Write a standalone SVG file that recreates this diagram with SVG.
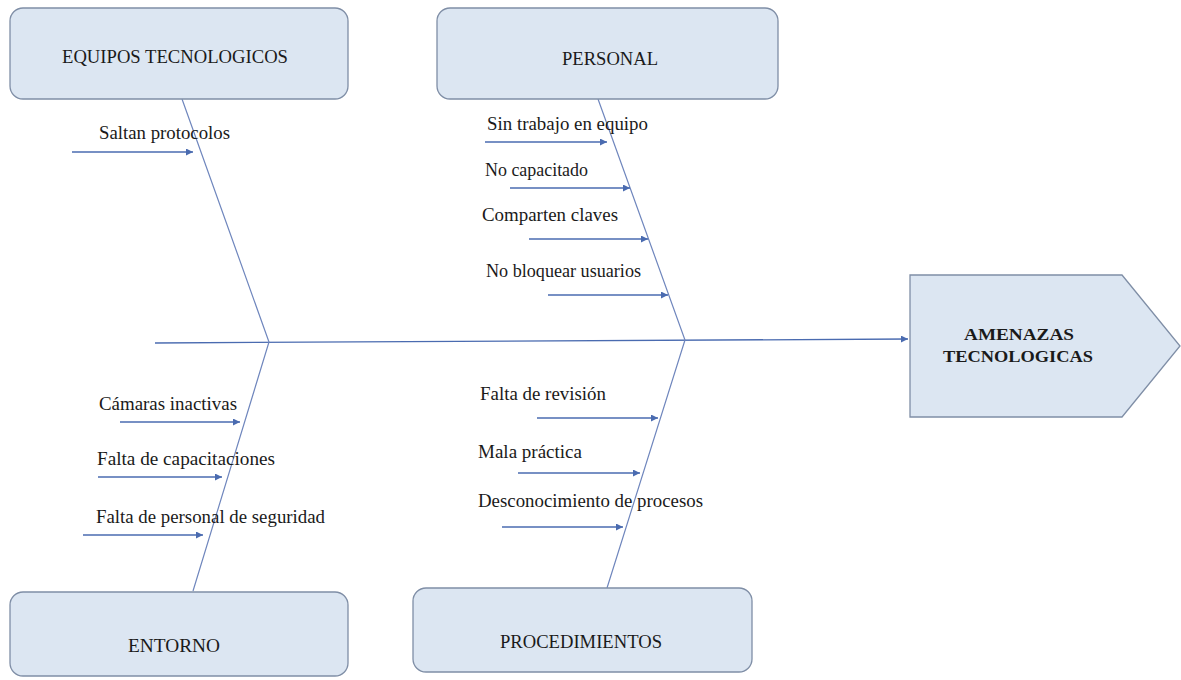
<svg xmlns="http://www.w3.org/2000/svg" width="1181" height="680" viewBox="0 0 1181 680">
<defs>
<marker id="ah" viewBox="0 0 10 10" refX="10" refY="5" markerWidth="7" markerHeight="7" markerUnits="userSpaceOnUse" orient="auto">
<path d="M0,0 L10,5 L0,10 z" fill="#4a6bb0"/>
</marker>
<style>
.box{fill:#dce6f2;stroke:#7f8ea6;stroke-width:1.3}
.t{font-family:"Liberation Serif","Times New Roman",serif;font-size:18px;fill:#1a1a1a}
.lbl{font-family:"Liberation Serif","Times New Roman",serif;font-size:19px;fill:#1a1a1a;text-anchor:middle}
.b{font-family:"Liberation Serif","Times New Roman",serif;font-size:17.5px;font-weight:bold;fill:#1a1a1a;text-anchor:middle}
.bone{fill:none;stroke:#6f86bd;stroke-width:1.2}
.arr{stroke:#4a6bb0;stroke-width:1.3;marker-end:url(#ah)}
</style>
</defs>
<rect width="1181" height="680" fill="#ffffff"/>
<g id="connectors">
<line class="arr" x1="155" y1="343" x2="908" y2="339"/>
<polyline class="bone" points="182,99 269,342 193,591"/>
<polyline class="bone" points="598,99 685,340 607,588"/>
<line class="arr" x1="72" y1="152" x2="193" y2="152"/>
<line class="arr" x1="485" y1="142" x2="607" y2="142"/>
<line class="arr" x1="510" y1="188" x2="630" y2="188"/>
<line class="arr" x1="529" y1="239" x2="648" y2="239"/>
<line class="arr" x1="548" y1="295" x2="668" y2="295"/>
<line class="arr" x1="120" y1="422" x2="240" y2="422"/>
<line class="arr" x1="98" y1="477" x2="222" y2="477"/>
<line class="arr" x1="83" y1="535" x2="203" y2="535"/>
<line class="arr" x1="537" y1="418" x2="658" y2="418"/>
<line class="arr" x1="518" y1="473" x2="640" y2="473"/>
<line class="arr" x1="502" y1="527" x2="623" y2="527"/>
</g>
<g id="equipos">
<rect class="box" x="10" y="8" width="338" height="91" rx="13"/>
<text class="lbl" x="175" y="63" textLength="226" lengthAdjust="spacingAndGlyphs">EQUIPOS TECNOLOGICOS</text>
</g>
<g id="personal">
<rect class="box" x="437" y="8" width="341" height="91" rx="13"/>
<text class="lbl" x="610" y="65" textLength="96" lengthAdjust="spacingAndGlyphs">PERSONAL</text>
</g>
<g id="entorno">
<rect class="box" x="10" y="592" width="338" height="84" rx="13"/>
<text class="lbl" x="174" y="652" textLength="92" lengthAdjust="spacingAndGlyphs">ENTORNO</text>
</g>
<g id="procedimientos">
<rect class="box" x="413" y="588" width="339" height="84" rx="13"/>
<text class="lbl" x="581" y="648" textLength="162" lengthAdjust="spacingAndGlyphs">PROCEDIMIENTOS</text>
</g>
<g id="amenazas">
<polygon class="box" points="910,275 1122,275 1180,346 1122,417 910,417"/>
<text class="b" x="1019" y="340" textLength="110" lengthAdjust="spacingAndGlyphs">AMENAZAS</text>
<text class="b" x="1018" y="362" textLength="150" lengthAdjust="spacingAndGlyphs">TECNOLOGICAS</text>
</g>
<g id="causes">
<text class="t" x="99" y="139" textLength="131" lengthAdjust="spacingAndGlyphs">Saltan protocolos</text>
<text class="t" x="487" y="130" textLength="161" lengthAdjust="spacingAndGlyphs">Sin trabajo en equipo</text>
<text class="t" x="485" y="176" textLength="103" lengthAdjust="spacingAndGlyphs">No capacitado</text>
<text class="t" x="482" y="221" textLength="136" lengthAdjust="spacingAndGlyphs">Comparten claves</text>
<text class="t" x="486" y="277" textLength="155" lengthAdjust="spacingAndGlyphs">No bloquear usuarios</text>
<text class="t" x="99" y="410" textLength="138" lengthAdjust="spacingAndGlyphs">Cámaras inactivas</text>
<text class="t" x="97" y="465" textLength="178" lengthAdjust="spacingAndGlyphs">Falta de capacitaciones</text>
<text class="t" x="96" y="523" textLength="229" lengthAdjust="spacingAndGlyphs">Falta de personal de seguridad</text>
<text class="t" x="480" y="400" textLength="126" lengthAdjust="spacingAndGlyphs">Falta de revisión</text>
<text class="t" x="478" y="458" textLength="104" lengthAdjust="spacingAndGlyphs">Mala práctica</text>
<text class="t" x="478" y="507" textLength="225" lengthAdjust="spacingAndGlyphs">Desconocimiento de procesos</text>
</g>
</svg>
